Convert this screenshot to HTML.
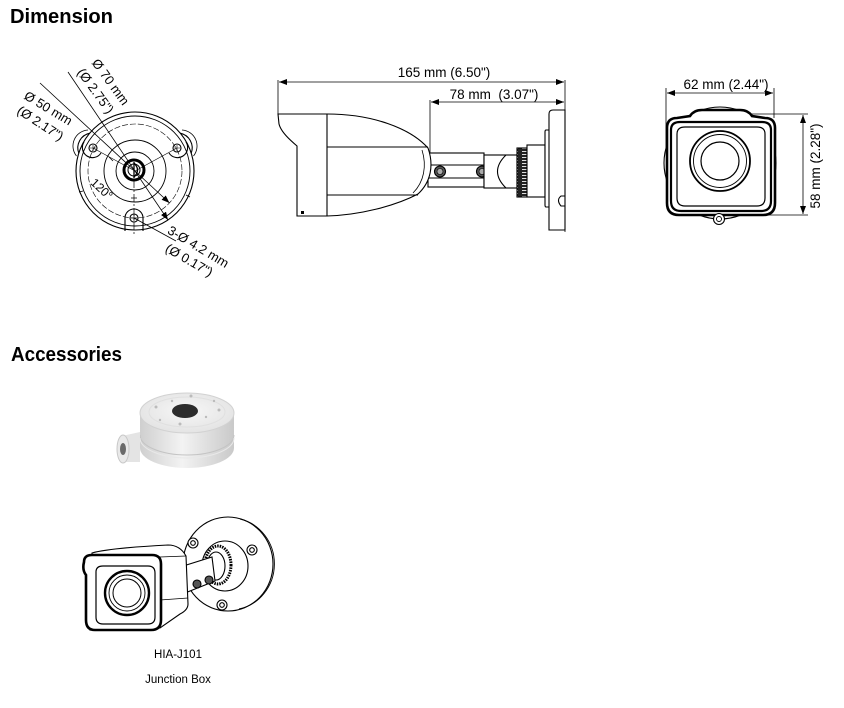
<!DOCTYPE html>
<html><head><meta charset="utf-8"><style>
html,body{margin:0;padding:0;background:#fff;}
svg{display:block;}
text{font-family:"Liberation Sans",sans-serif;fill:#000;}
</style></head><body>
<svg width="844" height="708" viewBox="0 0 844 708" xmlns="http://www.w3.org/2000/svg">
<defs>
<marker id="a" markerWidth="8" markerHeight="6" refX="8" refY="3" orient="auto-start-reverse" markerUnits="userSpaceOnUse"><path d="M0,0 L8,3 L0,6 Z" fill="#000"/></marker>
<pattern id="k" width="10" height="3" patternUnits="userSpaceOnUse"><rect width="10" height="3" fill="#222"/><rect x="2" y="1" width="6" height="1" fill="#ddd"/></pattern>
<linearGradient id="jb" x1="0" x2="1" y1="0" y2="0"><stop offset="0" stop-color="#cfcfcf"/><stop offset="0.45" stop-color="#f3f3f3"/><stop offset="1" stop-color="#c9c9c9"/></linearGradient>
<radialGradient id="jt" cx="0.5" cy="0.45" r="0.6"><stop offset="0" stop-color="#f7f7f7"/><stop offset="1" stop-color="#e2e2e2"/></radialGradient>
</defs>

<!-- Headings -->
<text x="10" y="23" font-size="20" font-weight="bold" textLength="103" lengthAdjust="spacingAndGlyphs">Dimension</text>
<text x="11" y="361" font-size="20" font-weight="bold" textLength="111" lengthAdjust="spacingAndGlyphs">Accessories</text>

<!-- ============ TOP VIEW ============ -->
<g fill="none" stroke="#000" stroke-width="1.1">
  <circle cx="135" cy="171" r="59"/>
  <circle cx="135" cy="171" r="55" stroke-width="0.9"/>
  <circle cx="135" cy="171" r="47" stroke-width="0.6" stroke-dasharray="6 2"/>
  <circle cx="135" cy="171" r="31" stroke-width="0.9"/>
  <circle cx="135" cy="171" r="19" stroke-width="0.9"/>
  <circle cx="134" cy="170" r="10" stroke-width="3"/>
  <circle cx="134" cy="170" r="6" stroke-width="1"/>
  <path d="M134,162 L134,178 M134,163 Q141,170 134,177" stroke-width="1.3"/>
  <!-- shoulders -->
  <path d="M78.8,153.2 A15,15 0 0 1 89.8,133.2"/>
  <path d="M180.2,133.2 A15,15 0 0 1 191.2,153.2"/>
  <path d="M76.5,156 A16,16 0 0 1 88,130" stroke-width="0.8"/>
  <path d="M182,130 A16,16 0 0 1 193.5,156" stroke-width="0.8"/>
  <!-- hole lugs -->
  <path d="M84,142 A10,10 0 1 0 101,153" />
  <circle cx="93" cy="148" r="4"/>
  <path d="M90,148 L96,148 M93,145 L93,151" stroke-width="0.6"/>
  <path d="M169,153 A10,10 0 1 0 186,142"/>
  <circle cx="177" cy="148" r="4"/>
  <path d="M174,148 L180,148 M177,145 L177,151" stroke-width="0.6"/>
  <path d="M125,231 L125,218 A9,9 0 0 1 143,218 L143,231"/>
  <circle cx="134" cy="218" r="4"/>
  <path d="M131,218 L137,218 M134,215 L134,221" stroke-width="0.6"/>
  <!-- center lines -->
  <path d="M134,180 L134,234" stroke-width="0.7" stroke-dasharray="8 2 2 2"/>
  <path d="M135,171 L93,148 M135,171 L177,148" stroke-width="0.6"/>
  <path d="M79,192 L83,191 M186,195 L190,197" stroke-width="0.8"/>
  <!-- ticks 120 -->
  <path d="M109,157 L113,161 M131,198 L137,198" stroke-width="0.8"/>
</g>
<!-- dimension leaders top view -->
<g stroke="#000" stroke-width="0.8" fill="none">
  <line x1="68" y1="72" x2="168" y2="220" marker-end="url(#a)"/>
  <line x1="40" y1="83" x2="169.5" y2="203" marker-end="url(#a)"/>
  <line x1="134" y1="218" x2="176" y2="241"/>
</g>
<g font-size="13">
  <text x="107" y="84.5" transform="rotate(54 107 84.5)" text-anchor="middle">Ø 70 mm</text>
  <text x="92" y="93.5" transform="rotate(54 92 93.5)" text-anchor="middle">(Ø 2.75")</text>
  <text x="46" y="112" transform="rotate(31 46 112)" text-anchor="middle">Ø 50 mm</text>
  <text x="38" y="127" transform="rotate(33 38 127)" text-anchor="middle">(Ø 2.17")</text>
  <text x="196" y="250.5" transform="rotate(31 196 250.5)" text-anchor="middle">3-Ø 4.2 mm</text>
  <text x="187" y="264" transform="rotate(30 187 264)" text-anchor="middle">(Ø 0.17")</text>
  <text x="99" y="192" font-size="12" transform="rotate(43 99 192)" text-anchor="middle">120°</text>
</g>

<!-- ============ SIDE VIEW ============ -->
<g stroke="#000" stroke-width="0.8" fill="none">
  <line x1="278" y1="80" x2="278" y2="114"/>
  <line x1="430" y1="100" x2="430" y2="153"/>
  <line x1="565" y1="80" x2="565" y2="232"/>
  <line x1="279" y1="82" x2="564" y2="82" marker-start="url(#a)" marker-end="url(#a)"/>
  <line x1="431" y1="102" x2="564" y2="102" marker-start="url(#a)" marker-end="url(#a)"/>
</g>
<text x="444" y="77" font-size="13.5" text-anchor="middle">165 mm (6.50")</text>
<text x="494" y="99" font-size="13.5" text-anchor="middle" xml:space="preserve">78 mm  (3.07")</text>
<g stroke="#000" stroke-width="1.1" fill="#fff">
  <!-- arm -->
  <rect x="428" y="153" width="56" height="34"/>
  <path d="M428,165 L484,165 M428,178 L484,178" fill="none"/>
  <circle cx="440" cy="171.5" r="5.5" fill="#555"/>
  <circle cx="440" cy="171.5" r="3" fill="#aaa" stroke-width="0.6"/>
  <circle cx="482" cy="171.5" r="5.5" fill="#555"/>
  <circle cx="482" cy="171.5" r="3" fill="#aaa" stroke-width="0.6"/>
  <!-- joint -->
  <rect x="484" y="155" width="33" height="33"/>
  <path d="M506,155 Q489,171.5 506,188" fill="none"/>
  <!-- knurl -->
  <rect x="517" y="148" width="10" height="49" fill="url(#k)"/>
  <!-- cylinder -->
  <rect x="527" y="145" width="18" height="52"/>
  <!-- plate -->
  <path d="M549,130 L546,130 Q545,130 545,132 L545,205 Q545,207 546,207 L549,207"/>
  <path d="M565,110 L553,110 Q549,110 549,114 L549,230 L565,230 Z"/>
  <path d="M565,196 L561,196 Q556,200 561,206 L565,206" fill="none"/>
  <!-- body -->
  <path d="M278,114 L327,114 C372,114 410,128 428,148 C434,165 431,182 418,194 C395,206 360,215 327,216 L297,216 L297,146 C290,140 281,132 279,124 Z"/>
  <path d="M327,114 L327,216 M327,147 L428,147 M327,195 L418,195" fill="none"/>
  <path d="M422,150 C427,166 424,182 413,193" fill="none" stroke-width="0.8"/>
  <rect x="301" y="211" width="3" height="3" fill="#000" stroke="none"/>
</g>

<!-- ============ FRONT VIEW ============ -->
<g stroke="#000" stroke-width="0.8" fill="none">
  <line x1="666" y1="88" x2="666" y2="150"/>
  <line x1="774" y1="88" x2="774" y2="118"/>
  <line x1="667" y1="93" x2="773" y2="93" marker-start="url(#a)" marker-end="url(#a)"/>
  <line x1="742" y1="114" x2="808" y2="114"/>
  <line x1="760" y1="215" x2="808" y2="215"/>
  <line x1="803" y1="115" x2="803" y2="214" marker-start="url(#a)" marker-end="url(#a)"/>
</g>
<text x="726" y="89" font-size="13.5" text-anchor="middle">62 mm (2.44")</text>
<text x="820" y="166" font-size="13.5" text-anchor="middle" transform="rotate(-90 820 166)">58 mm (2.28")</text>
<g stroke="#000" fill="#fff">
  <circle cx="720" cy="163" r="56" stroke-width="1.1"/>
  <circle cx="720" cy="163" r="53" stroke-width="0.8" fill="none"/>
  <path d="M667,128 Q667,118 677,118 L690,116 Q694,110 702,110 L740,110 Q748,110 752,116 L765,118 Q775,118 775,128 L775,203 Q775,215 763,215 L679,215 Q667,215 667,203 Z" stroke-width="2.6"/>
  <path d="M671,130 Q671,122 680,122 L762,122 Q771,122 771,130 L771,201 Q771,211 761,211 L681,211 Q671,211 671,201 Z" stroke-width="2.2" fill="none"/>
  <path d="M677,134 Q677,127 685,127 L757,127 Q765,127 765,134 L765,198 Q765,206 757,206 L685,206 Q677,206 677,198 Z" stroke-width="1.2" fill="none"/>
  <circle cx="720" cy="161" r="30" stroke-width="1.8"/>
  <circle cx="720" cy="161" r="26.5" stroke-width="0.9" fill="none"/>
  <circle cx="720" cy="161" r="19" stroke-width="1.2" fill="none"/>
  <circle cx="719" cy="219" r="5.5" stroke-width="1.1"/>
  <circle cx="719" cy="219" r="2.5" stroke-width="0.9"/>
</g>

<!-- ============ JUNCTION BOX (photo-like) ============ -->
<g>
  <path d="M140,413 L140,448 A47,20 0 0 0 234,448 L234,413 Z" fill="url(#jb)"/>
  <path d="M140,435 A47,20 0 0 0 234,435" fill="none" stroke="#c4c4c4" stroke-width="1"/>
  <path d="M140,438 A47,20 0 0 0 234,438" fill="none" stroke="#e8e8e8" stroke-width="1"/>
  <ellipse cx="187" cy="413" rx="47" ry="20" fill="url(#jt)" stroke="#d2d2d2" stroke-width="1"/>
  <ellipse cx="187" cy="412" rx="38" ry="15" fill="none" stroke="#e0e0e0" stroke-width="1"/>
  <ellipse cx="185" cy="411" rx="13" ry="7" fill="#2c2c2c"/>
  <g fill="#bbb">
    <circle cx="191" cy="396" r="1.5"/><circle cx="156" cy="407" r="1.5"/><circle cx="219" cy="410" r="1.5"/>
    <circle cx="180" cy="424" r="1.5"/><circle cx="160" cy="420" r="1.2"/><circle cx="214" cy="401" r="1.2"/>
    <circle cx="206" cy="417" r="1.2"/><circle cx="172" cy="401" r="1.2"/>
  </g>
  <path d="M122,436 L140,432 L140,462 L122,462 Z" fill="#e4e4e4"/>
  <ellipse cx="123" cy="449" rx="6" ry="14" fill="#e9e9e9" stroke="#c8c8c8"/>
  <ellipse cx="123" cy="449" rx="3" ry="6" fill="#6a6a6a"/>
</g>

<!-- ============ CAMERA ILLUSTRATION ============ -->
<g stroke="#000" fill="#fff" stroke-width="1.1">
  <ellipse cx="228" cy="564" rx="45" ry="47"/>
  <path d="M240,519 A44,46 0 0 1 239,609" fill="none" stroke-width="0.9"/>
  <ellipse cx="225" cy="566" rx="23" ry="25" fill="none"/>
  <circle cx="193" cy="543" r="5"/><circle cx="193" cy="543" r="2.3"/>
  <circle cx="252" cy="550" r="5"/><circle cx="252" cy="550" r="2.3"/>
  <circle cx="222" cy="605" r="5"/><circle cx="222" cy="605" r="2.3"/>
  <ellipse cx="218" cy="565" rx="13" ry="19" stroke-width="3" stroke-dasharray="1.5 1"/>
  <ellipse cx="216" cy="566" rx="9" ry="14"/>
  <path d="M180,567 L212,557 L215,581 L185,593 Z"/>
  <circle cx="197" cy="584" r="4" fill="#555"/>
  <circle cx="209" cy="580" r="4" fill="#555"/>
  <!-- body -->
  <path d="M92,553 Q110,548 168,545 Q180,545 186,556 L188,604 Q188,610 180,614 L160,628 L90,630 Z"/>
  <path d="M160,557 L186,556 M160,600 L188,598" fill="none" stroke-width="0.8"/>
  <path d="M84,562 Q84,555 92,555 L152,555 Q161,555 161,564 L161,620 Q161,630 151,630 L95,630 Q86,630 86,620 L86,575 Q82,570 84,562 Z" stroke-width="2.6"/>
  <path d="M96,572 Q96,566 103,566 L148,566 Q155,566 155,573 L155,617 Q155,624 148,624 L103,624 Q96,624 96,617 Z" fill="none" stroke-width="1.2"/>
  <circle cx="127" cy="593" r="22" stroke-width="2.4"/>
  <circle cx="127" cy="593" r="18" fill="none" stroke-width="0.9"/>
  <circle cx="127" cy="593" r="14" fill="none" stroke-width="1"/>
</g>
<text x="178" y="658" font-size="11.5" text-anchor="middle">HIA-J101</text>
<text x="178" y="683" font-size="11.5" text-anchor="middle">Junction Box</text>
</svg>
</body></html>
